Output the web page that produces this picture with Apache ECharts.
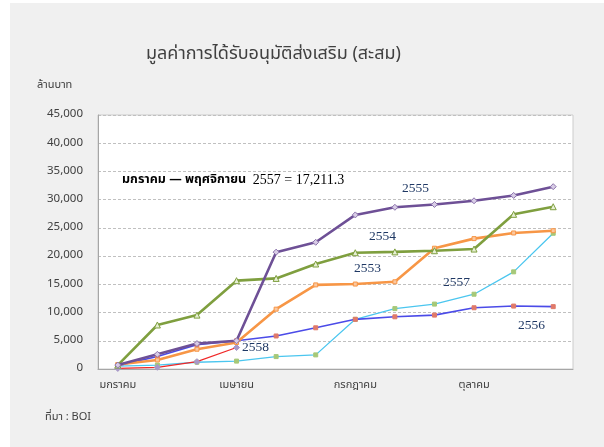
<!DOCTYPE html>
<html><head><meta charset="utf-8">
<script src="https://cdn.jsdelivr.net/npm/echarts@6/dist/echarts.min.js"></script>
<style>html,body{margin:0;padding:0;background:#fff;}#c{width:604px;height:447px;}</style>
</head><body><div id="c"></div>
<script>
const months = ['มกราคม','กุมภาพันธ์','มีนาคม','เมษายน','พฤษภาคม','มิถุนายน','กรกฎาคม','สิงหาคม','กันยายน','ตุลาคม','พฤศจิกายน','ธันวาคม'];
const s2553 = [800, 1600, 3500, 4700, 10600, 14900, 15050, 15450, 21400, 23100, 24100, 24500];
const s2554 = [700, 7800, 9550, 15650, 16050, 18600, 20600, 20750, 20950, 21250, 27400, 28750];
const s2555 = [700, 2600, 4500, 5000, 20700, 22450, 27300, 28650, 29150, 29800, 30750, 32300];
const s2556 = [600, 2200, 4300, 5000, 5850, 7300, 8800, 9250, 9550, 10850, 11150, 11050];
const s2557 = [500, 700, 1200, 1400, 2200, 2500, 8800, 10700, 11500, 13250, 17211.3, 24050];
const s2558 = [100, 300, 1300, 3800];
const yTicks = [0, 5000, 10000, 15000, 20000, 25000, 30000, 35000, 40000, 45000];

const thai = '"Noto Sans Thai","Tahoma","Noto Sans","DejaVu Sans",sans-serif';
const serif = '"Liberation Serif","DejaVu Serif",serif';
const chart = echarts.init(document.getElementById('c'));
function line(name, data, color, width, symbol, size, mColor, fill, z) {
  return {name, type:'line', data, z, symbol, symbolSize:size, showSymbol:true,
    lineStyle:{color, width}, itemStyle:{color:fill, borderColor:mColor, borderWidth:1},
    emphasis:{disabled:true}, animation:false};
}
chart.setOption({
  backgroundColor:'#f0f0f0',
  animation:false,
  title:{text:'มูลค่าการได้รับอนุมัติส่งเสริม (สะสม)', left:141, top:41,
    textStyle:{fontFamily:thai, fontSize:18, fontWeight:'normal', color:'#404040'}},
  grid:{left:98, top:115, right:31, bottom:78, show:true, backgroundColor:'#fff', borderColor:'#cccccc', borderWidth:1},
  xAxis:{type:'category', data:months, boundaryGap:true,
    axisLine:{lineStyle:{color:'#a6a6a6'}},
    axisTick:{interval:2, length:5, lineStyle:{color:'#a6a6a6'}},
    axisLabel:{interval:2, color:'#404040', fontFamily:thai, fontSize:11, margin:11}},
  yAxis:{type:'value', min:yTicks[0], max:yTicks[yTicks.length-1], interval:5000,
    axisLine:{show:true, lineStyle:{color:'#a6a6a6'}}, axisTick:{show:false},
    splitLine:{lineStyle:{color:'#c0c0c0', type:[3,2]}},
    axisLabel:{color:'#404040', fontFamily:thai, fontSize:11.5, margin:15,
      formatter:v=>v.toLocaleString('en-US')}},
  graphic:[
    {type:'rect', left:0, top:0, shape:{width:10, height:447}, style:{fill:'#fff'}},
    {type:'rect', left:0, top:0, shape:{width:604, height:3}, style:{fill:'#fff'}},
    {type:'text', left:37, top:80, style:{text:'ล้านบาท', fontFamily:thai, fontSize:11, fill:'#404040'}},
    {type:'text', left:45, top:412, style:{text:'ที่มา : BOI', fontFamily:thai, fontSize:11, fill:'#404040'}},
    {type:'text', left:122, top:173, style:{text:'{a|มกราคม — พฤศจิกายน}  {b|2557 = 17,211.3}',
      rich:{a:{fontFamily:thai, fontSize:12.5, fontWeight:'bold', color:'#1f3864'},
            b:{fontFamily:serif, fontSize:14, color:'#1f3864'}}}},
    {type:'text', left:402, top:181, style:{text:'2555', fontFamily:serif, fontSize:13.5, fill:'#1f3864'}},
    {type:'text', left:369, top:229, style:{text:'2554', fontFamily:serif, fontSize:13.5, fill:'#1f3864'}},
    {type:'text', left:354, top:261, style:{text:'2553', fontFamily:serif, fontSize:13.5, fill:'#1f3864'}},
    {type:'text', left:443, top:275, style:{text:'2557', fontFamily:serif, fontSize:13.5, fill:'#1f3864'}},
    {type:'text', left:518, top:318, style:{text:'2556', fontFamily:serif, fontSize:13.5, fill:'#1f3864'}},
    {type:'text', left:242, top:340, style:{text:'2558', fontFamily:serif, fontSize:13.5, fill:'#1f3864'}}
  ],
  series:[
    line('2557', s2557, '#4bc6ef', 1.3, 'rect', 4, '#a6c878', '#a6c878', 2),
    line('2556', s2556, '#4b4be8', 1.6, 'rect', 4, '#e07a6a', '#e07a6a', 3),
    line('2558', s2558, '#f02828', 1.2, 'diamond', 6, '#a898c8', '#a898c8', 4),
    line('2553', s2553, '#f79646', 2.6, 'rect', 4, '#f79646', '#fbc8a0', 5),
    line('2554', s2554, '#7f9f3f', 2.6, 'triangle', 6, '#7f9f3f', '#e6efd4', 6),
    line('2555', s2555, '#6e5096', 2.6, 'diamond', 6, '#8c74ac', '#d8cce6', 7)
  ]
});
</script></body></html>
